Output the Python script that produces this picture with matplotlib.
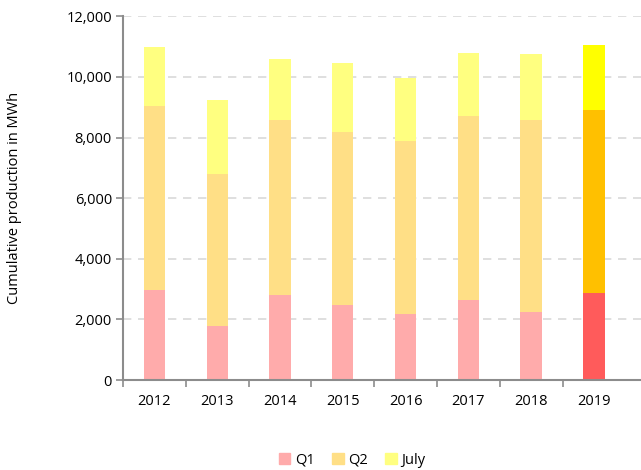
import numpy as np
import matplotlib.pyplot as plt
from matplotlib.patches import Patch
from matplotlib.ticker import FuncFormatter, FixedLocator

# Data (MWh)
years = ['2012', '2013', '2014', '2015', '2016', '2017', '2018', '2019']
q1 = [2960, 1780, 2805, 2475, 2180, 2640, 2245, 2870]
q2_top = [9045, 6815, 8570, 8200, 7900, 8725, 8595, 8925]
july_top = [10990, 9250, 10605, 10450, 9965, 10800, 10755, 11065]

q2 = [t - a for t, a in zip(q2_top, q1)]
july = [t - b for t, b in zip(july_top, q2_top)]

light = ['#FFABAB', '#FFDF86', '#FFFF80']
bold = ['#FF5B5B', '#FFC000', '#FFFF00']

plt.rcParams['font.family'] = ['Open Sans', 'DejaVu Sans']

fig = plt.figure(figsize=(6.41, 4.70), dpi=100)
ax = fig.add_axes([123 / 641, 1 - 380 / 470, 1 - 123 / 641, (380 - 16.4) / 470])

x = np.arange(len(years))
n = len(years)
for i in range(n):
    cols = bold if i == n - 1 else light
    w = 0.355 if i == n - 1 else 0.34
    ax.bar(x[i], q1[i], width=w, color=cols[0], zorder=2)
    ax.bar(x[i], q2[i], bottom=q1[i], width=w, color=cols[1], zorder=2)
    ax.bar(x[i], july[i], bottom=q2_top[i], width=w, color=cols[2], zorder=2)

ax.set_xlim(-0.5, 7.75)
ax.set_ylim(0, 12000)
ax.set_yticks(np.arange(0, 12001, 2000))
ax.yaxis.set_major_formatter(FuncFormatter(lambda v, p: f'{int(v):,}'))
ax.set_xticks(x)
ax.set_xticklabels(years)
ax.tick_params(axis='x', which='major', length=0, pad=10, labelsize=10.5)
ax.xaxis.set_minor_locator(FixedLocator(np.arange(-0.5, 7, 1)))
ax.tick_params(axis='x', which='minor', length=5, color='#8c8c8c', width=1.2)
ax.tick_params(axis='y', length=5, color='#8c8c8c', width=1.2, labelsize=10.5, pad=3)

ax.grid(axis='y', linestyle=(0, (5, 4)), color='#d9d9d9', linewidth=1.2, zorder=0)
for s in ['top', 'right']:
    ax.spines[s].set_visible(False)
for s in ['left', 'bottom']:
    ax.spines[s].set_color('#8c8c8c')
    ax.spines[s].set_linewidth(1.5)

fig.text(15 / 641, 1 - 198 / 470, 'Cumulative production in MWh', rotation=90,
         ha='center', va='center', fontsize=10.5)

handles = [Patch(color=c) for c in light]
fig.legend(handles, ['Q1', 'Q2', 'July'], loc='center', bbox_to_anchor=(352 / 641, 1 - 460 / 470),
           ncol=3, frameon=False, fontsize=10.5, handlelength=0.8, handleheight=0.8,
           handletextpad=0.3, columnspacing=1.2)

fig.savefig('out.png', dpi=100)
